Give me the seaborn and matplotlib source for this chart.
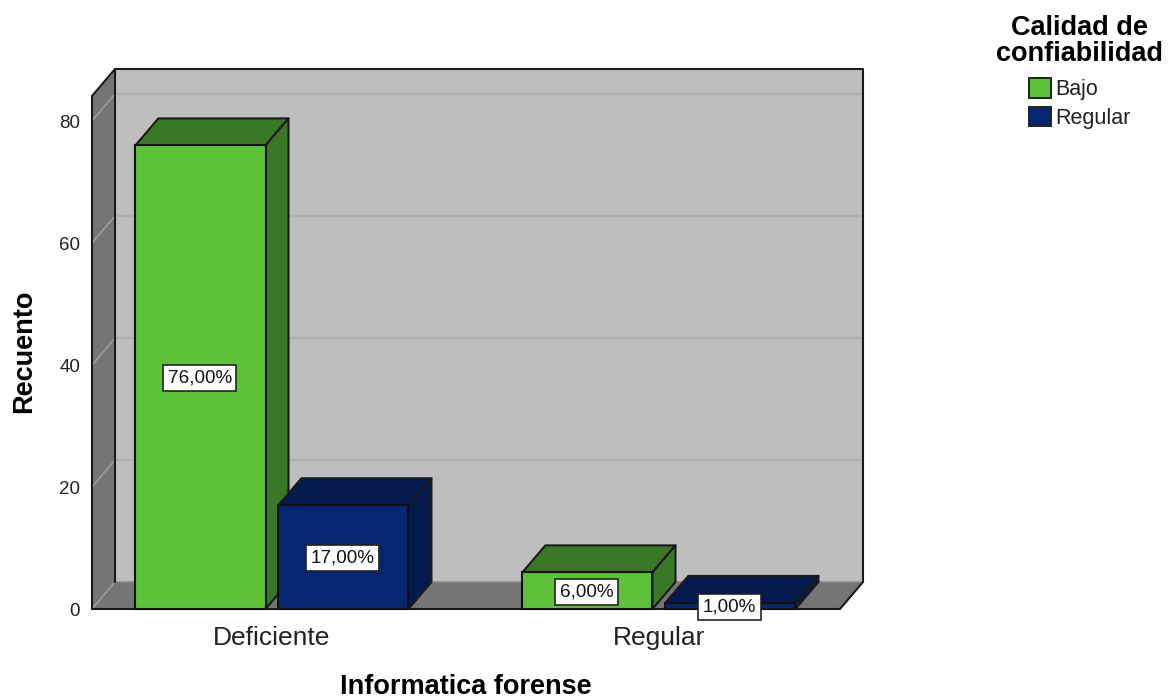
import matplotlib
matplotlib.use("Agg")
import matplotlib.pyplot as plt
from matplotlib.patches import Polygon, Patch
import pandas as pd
import seaborn as sns

categories = ["Deficiente", "Regular"]
series_names = ["Bajo", "Regular"]
bajo_values = [76, 6]
regular_values = [17, 1]
bajo_labels = ["76,00%", "6,00%"]
regular_labels = ["17,00%", "1,00%"]
y_ticks = [0, 20, 40, 60, 80]
x_title = "Informatica forense"
y_title = "Recuento"
legend_title = "Calidad de\nconfiabilidad"

FRONT = {"Bajo": "#5EC238", "Regular": "#06266F"}
DARK = {"Bajo": "#3B7825", "Regular": "#041A4E"}

W, H = 1173, 700
sns.set_style("white")
plt.rcParams["font.family"] = ["Liberation Sans", "DejaVu Sans"]

df = pd.DataFrame({
    "cat": categories * 2,
    "serie": [series_names[0]] * 2 + [series_names[1]] * 2,
    "val": bajo_values + regular_values,
})

fig = plt.figure(figsize=(W / 100, H / 100), dpi=100)
L, R, T, B = 92, 840, 96, 609
ax = fig.add_axes([L / W, 1 - B / H, (R - L) / W, (B - T) / H])

sns.barplot(data=df, x="cat", y="val", hue="serie", order=categories,
            hue_order=series_names, palette=FRONT, width=0.739, gap=0.09,
            saturation=1, legend=False, edgecolor="#111111", linewidth=1.5, ax=ax)

ax.set_xlim(-0.465, 1.468)
ax.set_ylim(0, 84.1)
for s in ax.spines.values():
    s.set_visible(False)
ax.patch.set_visible(False)

x0, x1 = ax.get_xlim()
y0, y1 = ax.get_ylim()
# depth of the 3D box: 23 px right, 27 px up, expressed in data units
dx = 23 * (x1 - x0) / (R - L)
dy = 27 * (y1 - y0) / (B - T)

EDGE = "#1a1a1a"
def poly(pts, fc, z, ec=EDGE, lw=1.5):
    p = Polygon(pts, closed=True, facecolor=fc, edgecolor=ec, linewidth=lw,
                zorder=z, clip_on=False, joinstyle="round")
    ax.add_patch(p)

def edge(xs, ys, color=EDGE, lw=1.5, z=0.6):
    ax.plot(xs, ys, color=color, lw=lw, zorder=z, clip_on=False, solid_capstyle="round")

# walls (faces without outline, outline added piece by piece)
poly([(x0 + dx, y0 + dy), (x1 + dx, y0 + dy), (x1 + dx, y1 + dy), (x0 + dx, y1 + dy)], "#BEBEBE", 0.1, ec="none", lw=0)
poly([(x0, y0), (x0 + dx, y0 + dy), (x0 + dx, y1 + dy), (x0, y1)], "#757575", 0.2, ec="none", lw=0)
poly([(x0, y0), (x1, y0), (x1 + dx, y0 + dy), (x0 + dx, y0 + dy)], "#757575", 0.2, ec="none", lw=0)

# gridlines on walls
for t in y_ticks:
    if t > 0:
        edge([x0 + dx, x1 + dx], [t + dy, t + dy], color="#B0B0B0", lw=1.6, z=0.3)
    edge([x0, x0 + dx], [t, t + dy], color="#9C9C9C", lw=1.2, z=0.3)
edge([x0 + dx, x1 + dx], [y0 + dy, y0 + dy], color="#8A8A8A", lw=1.2, z=0.3)

# outline of the box
edge([x0, x0, x0 + dx, x1 + dx, x1 + dx, x1, x0], [y0, y1, y1 + dy, y1 + dy, y0 + dy, y0, y0])
edge([x0 + dx, x0 + dx], [y0 + dy, y1 + dy])

# bars: extruded faces derived from the seaborn bars
names = {}
labels = {}
for container, name, lab in zip(ax.containers, series_names, [bajo_labels, regular_labels]):
    for b, s in zip(container, lab):
        names[id(b)] = name
        labels[id(b)] = s
bars = sorted([b for c in ax.containers for b in c], key=lambda p: p.get_x())

for i, b in enumerate(bars):
    bx0, bw, bh = b.get_x(), b.get_width(), b.get_height()
    bx1 = bx0 + bw
    z = 1 + i
    dark = DARK[names[id(b)]]
    poly([(bx0, bh), (bx1, bh), (bx1 + dx, bh + dy), (bx0 + dx, bh + dy)], dark, z)
    poly([(bx1, 0), (bx1 + dx, dy), (bx1 + dx, bh + dy), (bx1, bh)], dark, z)
    b.set_zorder(z + 0.5)
    b.set_clip_on(False)
    ax.annotate(labels[id(b)], (bx0 + bw / 2, bh / 2), xytext=(-0.5, -0.9), textcoords="offset points",
                ha="center", va="center", fontsize=13.6, color="#111111", zorder=20,
                annotation_clip=False,
                bbox=dict(boxstyle="square,pad=0.24", fc="white", ec="#222222", lw=1.2))

ax.set_yticks(y_ticks)
ax.tick_params(axis="y", labelsize=13.5, length=0, pad=8.6, labelcolor="#222222")
ax.tick_params(axis="x", labelsize=19, length=0, pad=12.5, labelcolor="#222222")
ax.set_xlabel(x_title, fontsize=19.5, fontweight="bold", labelpad=0, color="black")
ax.set_ylabel(y_title, fontsize=19.5, fontweight="bold", color="black")
ax.xaxis.set_label_coords((466 - L) / (R - L), -(687 - B) / (B - T), transform=ax.transAxes)
ax.yaxis.set_label_coords(-(92 - 24) / (R - L), (B - 351) / (B - T), transform=ax.transAxes)
ax.xaxis.label.set_va("center")
ax.yaxis.label.set_va("center")

handles = [Patch(facecolor=FRONT[n], edgecolor="#222222", linewidth=1.4) for n in series_names]
leg = fig.legend(handles, series_names, title=legend_title, loc="upper left",
                 bbox_to_anchor=(977 / W, 1 + 4 / H), frameon=False, fontsize=15.5,
                 title_fontproperties={"size": 19.5, "weight": "bold"},
                 handlelength=1.0, handleheight=1.0, handletextpad=0.2,
                 labelspacing=0.3, alignment="center", labelcolor="#222222")
leg.get_title().set_multialignment("center")
leg.get_title().set_color("black")
leg.get_title().set_linespacing(1.0)
leg._legend_box.sep = 8

fig.savefig("out.png", dpi=100)
